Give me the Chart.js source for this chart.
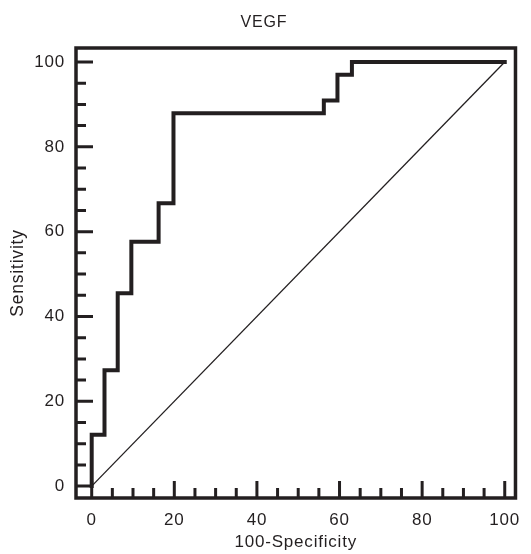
<!DOCTYPE html>
<html>
<head>
<meta charset="utf-8">
<script src="https://cdn.jsdelivr.net/npm/chart.js@4.4.1/dist/chart.umd.min.js"></script>
<style>
  html, body { margin: 0; padding: 0; background: #fff; }
  #wrap { width: 531px; height: 554px; }
</style>
</head>
<body>
<div id="wrap"><canvas id="roc" width="531" height="554"></canvas></div>
<script>
// ROC curve corners for VEGF (100-Specificity, Sensitivity)
const rocX = [0, 0, 3.1, 6.3, 9.6, 16.2, 19.8, 56.2, 59.5, 63.0, 100];
const rocY = [0, 12.1, 27.3, 45.5, 57.6, 66.7, 87.9, 90.9, 97.0, 100, 100];
const refX = [0, 100];
const refY = [0, 100];
const xTicks = [0, 20, 40, 60, 80, 100];
const yTicks = [0, 20, 40, 60, 80, 100];

const ink = '#231f20';
const fontFamily = '"Liberation Sans", Arial, Helvetica, sans-serif';

// the figure's lettering is a bit wider than Arial
const spacingPlugin = {
    id: 'spacing',
    beforeDraw(chart) {
        chart.ctx.letterSpacing = '0.8px';
    }
};

// frame + inward ticks (major every 20, minor every 5)
const framePlugin = {
    id: 'frame',
    afterDraw(chart) {
        const { ctx, chartArea: a, scales } = chart;
        ctx.save();
        ctx.strokeStyle = ink;
        ctx.lineWidth = 3.5;
        ctx.strokeRect(a.left, a.top, a.right - a.left, a.bottom - a.top);
        ctx.lineWidth = 3;
        for (let v = 0; v <= 100; v += 5) {
            const len = v % 20 === 0 ? 17 : 10;
            const px = scales.x.getPixelForValue(v);
            const py = scales.y.getPixelForValue(v);
            ctx.beginPath();
            ctx.moveTo(px, a.bottom);
            ctx.lineTo(px, a.bottom - len);
            ctx.moveTo(a.left, py);
            ctx.lineTo(a.left + len, py);
            ctx.stroke();
        }
        ctx.restore();
    }
};

new Chart(document.getElementById('roc'), {
    type: 'scatter',
    data: {
        datasets: [
            {
                data: refX.map((x, i) => ({ x, y: refY[i] })),
                showLine: true,
                borderColor: ink,
                borderWidth: 1.3,
                pointRadius: 0,
                order: 2
            },
            {
                data: rocX.map((x, i) => ({ x, y: rocY[i] })),
                showLine: true,
                stepped: 'before',
                borderColor: ink,
                borderWidth: 4,
                pointRadius: 0,
                borderCapStyle: 'square',
                order: 1
            }
        ]
    },
    options: {
        responsive: false,
        animation: false,
        layout: { padding: { left: 0, right: 3, top: 0, bottom: 0 } },
        plugins: {
            legend: { display: false },
            tooltip: { enabled: false },
            title: {
                display: true,
                text: 'VEGF',
                color: ink,
                font: { family: fontFamily, size: 16, weight: 'normal' },
                padding: { top: 13, bottom: 15.8 }
            }
        },
        scales: {
            x: {
                type: 'linear',
                min: -3.8,
                max: 102.6,
                grid: { display: false, drawTicks: false },
                border: { display: false },
                afterBuildTicks: s => { s.ticks = xTicks.map(v => ({ value: v })); },
                afterFit: s => { s.height = 56; },
                ticks: {
                    color: ink,
                    padding: 12,
                    maxRotation: 0,
                    font: { family: fontFamily, size: 17 }
                },
                title: {
                    display: true,
                    text: '100-Specificity',
                    color: ink,
                    font: { family: fontFamily, size: 17 },
                    padding: { top: 0, bottom: 1.5 }
                }
            },
            y: {
                type: 'linear',
                min: -2.8,
                max: 103.3,
                grid: { display: false, drawTicks: false },
                border: { display: false },
                afterBuildTicks: s => { s.ticks = yTicks.map(v => ({ value: v })); },
                afterFit: s => { s.width = 76; },
                ticks: {
                    color: ink,
                    padding: 11,
                    font: { family: fontFamily, size: 17 }
                },
                title: {
                    display: true,
                    text: 'Sensitivity',
                    color: ink,
                    font: { family: fontFamily, size: 17.5 },
                    padding: { top: 8, bottom: 0 }
                }
            }
        }
    },
    plugins: [spacingPlugin, framePlugin]
});
</script>
</body>
</html>
